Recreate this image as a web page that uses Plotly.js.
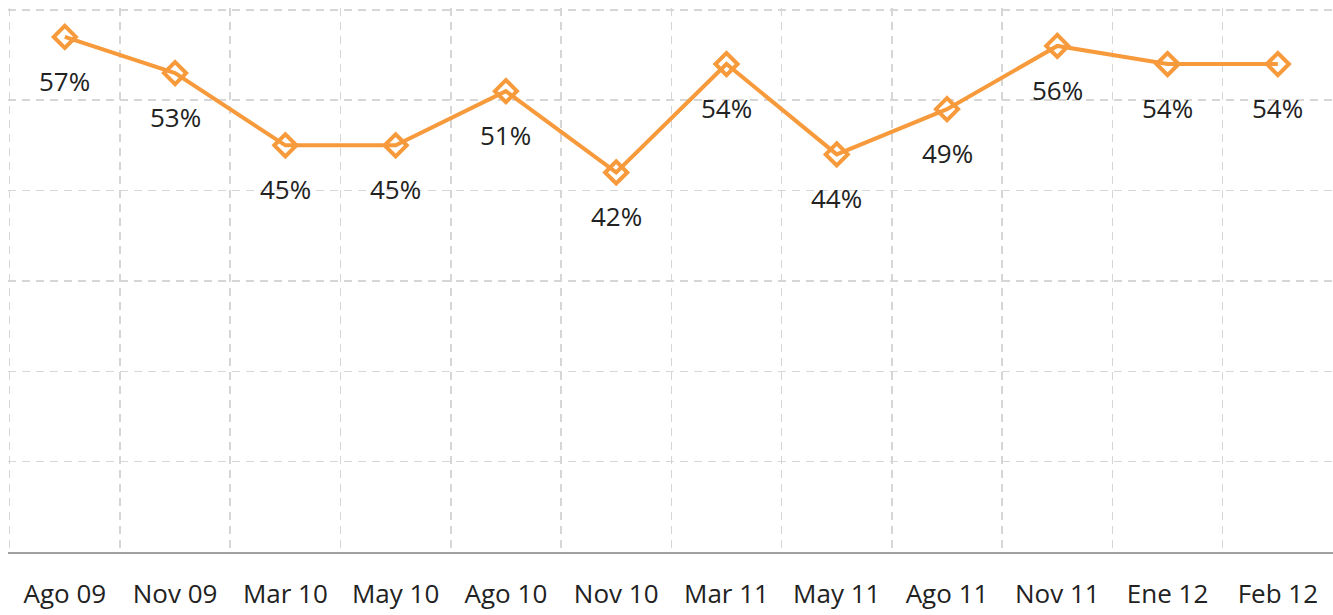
<!DOCTYPE html>
<html>
<head>
<meta charset="utf-8">
<script src="https://cdn.plot.ly/plotly-3.0.1.min.js"></script>
<style>html,body{margin:0;padding:0;background:#fff;}#chart{width:1333px;height:615px;}</style>
</head>
<body>
<div id="chart"></div>
<script>
const categories = ["Ago 09","Nov 09","Mar 10","May 10","Ago 10","Nov 10","Mar 11","May 11","Ago 11","Nov 11","Ene 12","Feb 12"];
const values = [57, 53, 45, 45, 51, 42, 54, 44, 49, 56, 54, 54];
const labels = values.map(v => v + "%");

const trace = {
  x: categories,
  y: values,
  type: "scatter",
  mode: "lines+markers",
  line: {color: "#F79A3C", width: 4},
  marker: {symbol: "diamond-open", size: 17, color: "#F79A3C", line: {color: "#F79A3C", width: 4}},
  hoverinfo: "skip",
  cliponaxis: false
};

const annotations = categories.map((c, i) => ({
  x: c, y: values[i], xref: "x", yref: "y",
  text: labels[i], showarrow: false, yshift: -44,
  xanchor: "center", yanchor: "middle",
  font: {family: "Open Sans, sans-serif", size: 26, color: "#222222"}
}));

const layout = {
  width: 1333, height: 615,
  margin: {l: 8, r: 0, t: 8, b: 63},
  paper_bgcolor: "#fff", plot_bgcolor: "#fff",
  showlegend: false,
  xaxis: {
    type: "category",
    range: [-0.515, 11.5],
    tickson: "boundaries",
    ticks: "",
    showgrid: true,
    gridcolor: "#d6d6d6", gridwidth: 1.5, griddash: "8px,6px",
    showline: true, linecolor: "#a0a0a0", linewidth: 2,
    tickfont: {family: "Open Sans, sans-serif", size: 26, color: "#222222"},
    ticklabelstandoff: 18,
    fixedrange: true
  },
  yaxis: {
    range: [0, 60.2],
    dtick: 10,
    showgrid: true,
    gridcolor: "#d6d6d6", gridwidth: 1.5, griddash: "8px,6px",
    showticklabels: false,
    zeroline: false, showline: false, ticks: "",
    fixedrange: true
  },
  annotations: annotations
};

Plotly.newPlot("chart", [trace], layout, {displayModeBar: false, staticPlot: true});
</script>
</body>
</html>
